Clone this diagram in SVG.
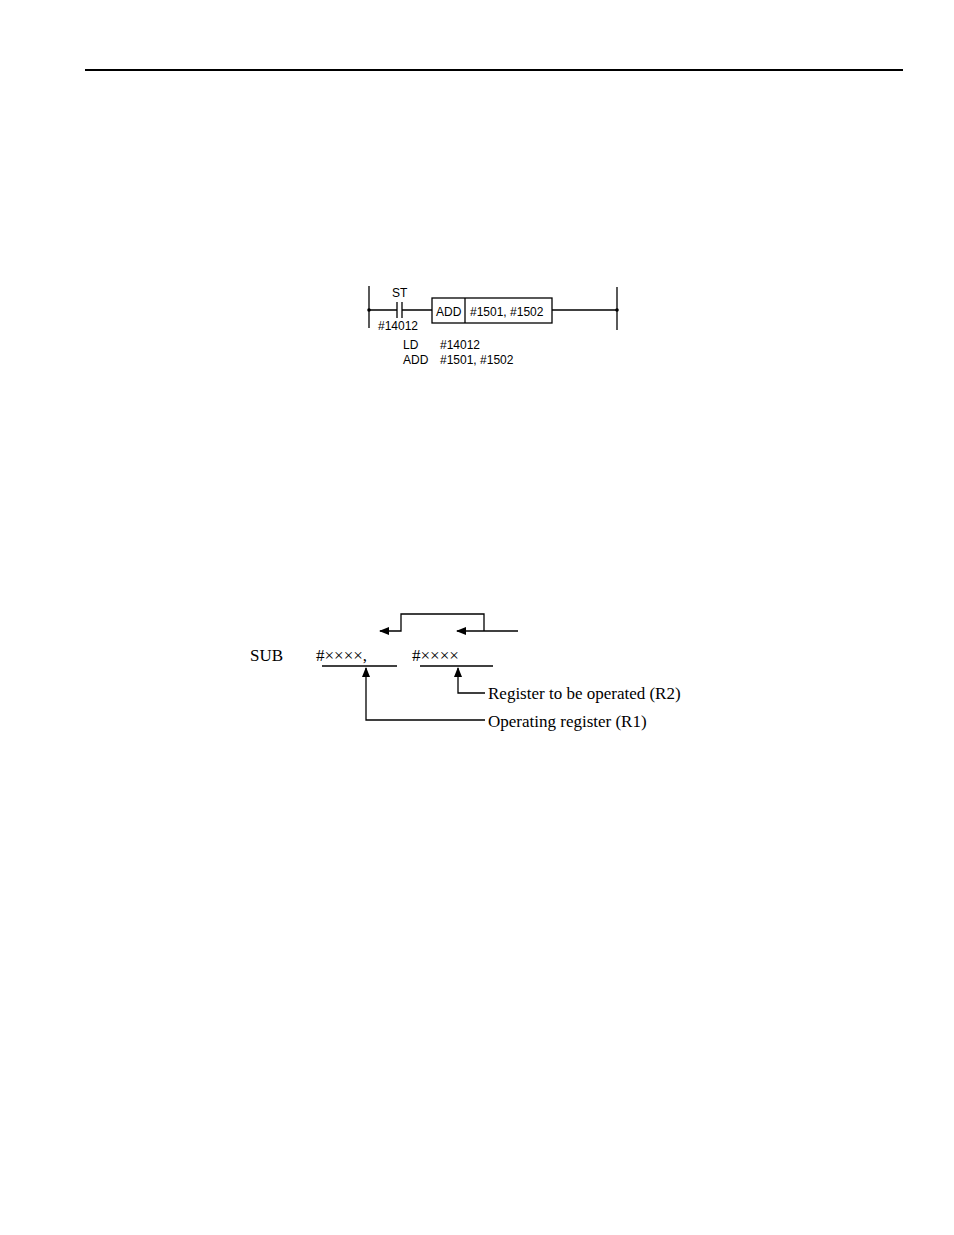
<svg xmlns="http://www.w3.org/2000/svg" width="954" height="1235" viewBox="0 0 954 1235">
<style>
.s{font-family:"Liberation Sans",Arial,sans-serif;font-size:12px;fill:#000}
.t{font-family:"Liberation Serif","Times New Roman",serif;font-size:17px;fill:#000}
.l{stroke:#000;stroke-width:1.3;fill:none}
</style>
<defs><marker id="a" markerWidth="10" markerHeight="8" refX="9" refY="4" orient="auto" markerUnits="userSpaceOnUse"><path d="M0,0 L10,4 L0,8 Z" fill="#000"/></marker></defs>
<rect width="954" height="1235" fill="#fff"/>
<line x1="85" y1="70" x2="903" y2="70" stroke="#000" stroke-width="2"/>
<g id="ladder">
<g id="rails" class="l"><line x1="369" y1="286" x2="369" y2="328"/><line x1="617" y1="287" x2="617" y2="330"/></g>
<circle cx="369" cy="310" r="1.8"/><circle cx="617" cy="310" r="1.8"/>
<g id="contact"><path class="l" d="M369,310H397M397,302V318M402,302V318M402,310H432"/>
<text class="s" x="392" y="297">ST</text><text class="s" x="378" y="330">#14012</text></g>
<g id="addbox"><rect class="l" x="432" y="298" width="120" height="25"/><line class="l" x1="465" y1="298" x2="465" y2="323"/>
<text class="s" x="436" y="316">ADD</text><text class="s" x="470" y="316">#1501, #1502</text></g>
<line class="l" x1="552" y1="310" x2="617" y2="310"/>
<g id="code"><text class="s" x="403" y="349">LD</text><text class="s" x="440" y="349">#14012</text>
<text class="s" x="403" y="364">ADD</text><text class="s" x="440" y="364">#1501, #1502</text></g>
</g>
<g id="sub">
<text class="t" x="250" y="661">SUB</text>
<text class="t" x="316" y="661">#××××,</text>
<text class="t" x="412" y="661">#××××</text>
<line class="l" x1="322" y1="666" x2="397" y2="666"/>
<line class="l" x1="420" y1="666" x2="493" y2="666"/>
<text class="t" x="488" y="699">Register to be operated (R2)</text>
<text class="t" x="488" y="727">Operating register (R1)</text>
</g>
<g id="connectors" class="l">
<path d="M484,631V614H401V631H380" marker-end="url(#a)"/>
<path d="M518,631H457" marker-end="url(#a)"/>
<path d="M485,693H458V668" marker-end="url(#a)"/>
<path d="M485,720H366V668" marker-end="url(#a)"/>
</g>
</svg>
